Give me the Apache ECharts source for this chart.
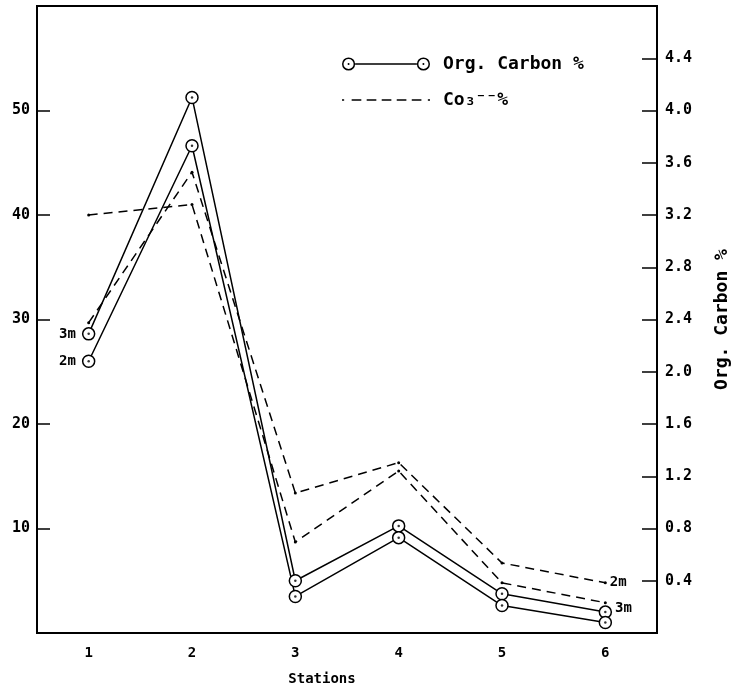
<!DOCTYPE html>
<html>
<head>
<meta charset="utf-8">
<script src="https://cdn.jsdelivr.net/npm/echarts@6/dist/echarts.min.js"></script>
<style>
  html, body { margin: 0; padding: 0; background: #fff; }
  #chart { width: 736px; height: 694px; }
</style>
</head>
<body>
<div id="chart"></div>
<script>
// stations on x axis
var stations = ['1', '2', '3', '4', '5', '6'];
// Org. Carbon % (right axis)
var orgCarbon3m = [2.29, 4.10, 0.40, 0.82, 0.30, 0.16];
var orgCarbon2m = [2.08, 3.73, 0.28, 0.73, 0.21, 0.08];
// CO3 % (left axis)
var co3_2m = [29.7, 44.1, 13.4, 16.3, 6.7, 4.8];
var co3_3m = [40.0, 41.0, 8.7, 15.5, 4.8, 2.9];
// tick labels
var leftTicks = [10, 20, 30, 40, 50];
var rightTicks = [0.4, 0.8, 1.2, 1.6, 2.0, 2.4, 2.8, 3.2, 3.6, 4.0, 4.4];

var FONT = "'DejaVu Sans Mono', monospace";
var ORG_NAME = 'Org. Carbon %';
var CO3_NAME = 'Co\u2083\u207B\u207B%';

// legend icons
var ringIcon = 'path://' +
  'M0.5,7a6.5,6.5 0 1,0 13,0a6.5,6.5 0 1,0 -13,0Z' +
  'M2,7a5,5 0 1,1 10,0a5,5 0 1,1 -10,0Z' +
  'M6,7a1,1 0 1,0 2,0a1,1 0 1,0 -2,0Z' +
  'M13.5,6.3H74.5V7.7H13.5Z' +
  'M74.5,7a6.5,6.5 0 1,0 13,0a6.5,6.5 0 1,0 -13,0Z' +
  'M76,7a5,5 0 1,1 10,0a5,5 0 1,1 -10,0Z' +
  'M80,7a1,1 0 1,0 2,0a1,1 0 1,0 -2,0Z';
var dashIcon = 'path://' +
  'M0,6.2H2V7.8H0Z' +
  'M9,6.3H18V7.7H9Z' +
  'M23,6.3H32V7.7H23Z' +
  'M37,6.3H46V7.7H37Z' +
  'M51,6.3H60V7.7H51Z' +
  'M65,6.3H74V7.7H65Z' +
  'M80,6.2H82V7.8H80Z';

function withEndLabels(values, first, last) {
  return values.map(function (v, i) {
    if (i === 0 && first) return { value: v, label: first };
    if (i === values.length - 1 && last) return { value: v, label: last };
    return v;
  });
}
var tagStyle = { show: true, fontFamily: FONT, fontWeight: 'bold', fontSize: 14, color: '#000' };
function tag(text, pos, dist, offset) {
  return Object.assign({}, tagStyle, { formatter: text, position: pos, distance: dist, offset: offset || [0, 0] });
}

var chart = echarts.init(document.getElementById('chart'));

function orgSeries(values, first, last) {
  return {
    name: ORG_NAME,
    type: 'line',
    yAxisIndex: 1,
    symbol: 'circle',
    symbolSize: 12,
    z: 3,
    lineStyle: { color: '#000', width: 1.5 },
    itemStyle: { color: '#fff', borderColor: '#000', borderWidth: 1.5 },
    label: { show: false },
    data: withEndLabels(values, first, last)
  };
}
function dotSeries(values) {
  return {
    name: 'dot',
    type: 'scatter',
    yAxisIndex: 1,
    symbol: 'circle',
    symbolSize: 2.5,
    z: 4,
    silent: true,
    itemStyle: { color: '#000' },
    data: values
  };
}
function co3Series(values, last) {
  return {
    name: CO3_NAME,
    type: 'line',
    yAxisIndex: 0,
    symbol: 'circle',
    symbolSize: 3,
    z: 2,
    lineStyle: { color: '#000', width: 1.5, type: [9, 6] },
    itemStyle: { color: '#000' },
    data: withEndLabels(values, null, last)
  };
}

var option = {
  animation: false,
  backgroundColor: '#fff',
  textStyle: { fontFamily: FONT },
  grid: {
    left: 37, right: 79, top: 6, bottom: 61,
    show: true, borderColor: '#000', borderWidth: 2,
    outerBoundsMode: 'none'
  },
  legend: {
    orient: 'vertical',
    left: 337,
    top: 50,
    itemWidth: 88,
    itemHeight: 14,
    itemGap: 18,
    symbolKeepAspect: true,
    selectedMode: false,
    itemStyle: { color: '#000', borderWidth: 0 },
    textStyle: { fontFamily: FONT, fontWeight: 'bold', fontSize: 18, color: '#000', padding: [0, 0, 0, 8] },
    data: [
      { name: ORG_NAME, icon: ringIcon },
      { name: CO3_NAME, icon: dashIcon }
    ]
  },
  xAxis: {
    type: 'category',
    data: stations,
    boundaryGap: true,
    name: 'Stations',
    nameLocation: 'middle',
    nameGap: 39,
    nameTextStyle: { fontFamily: FONT, fontWeight: 'bold', fontSize: 14, color: '#000', padding: [0, 50, 0, 0] },
    axisLine: { lineStyle: { color: '#000', width: 2 } },
    axisTick: { inside: true, alignWithLabel: true, length: 11, lineStyle: { color: '#000', width: 1.2 } },
    axisLabel: { margin: 13, fontFamily: FONT, fontWeight: 'bold', fontSize: 14, color: '#000' },
    splitLine: { show: false }
  },
  yAxis: [
    {
      type: 'value',
      position: 'left',
      min: 0, max: 60, interval: 10,
      axisLine: { show: true, lineStyle: { color: '#000', width: 1.5 } },
      axisTick: { show: true, inside: true, length: 13, lineStyle: { color: '#000', width: 1.5 } },
      axisLabel: {
        margin: 7, fontFamily: FONT, fontWeight: 'bold', fontSize: 15, color: '#000',
        formatter: function (v) { return leftTicks.indexOf(v) >= 0 ? String(v) : ''; }
      },
      splitLine: { show: false }
    },
    {
      type: 'value',
      position: 'right',
      min: 0, max: 4.8, interval: 0.4,
      name: 'Org. Carbon %',
      nameLocation: 'middle',
      nameGap: 56,
      nameRotate: 90,
      nameTextStyle: { fontFamily: FONT, fontWeight: 'bold', fontSize: 18, color: '#000' },
      axisLine: { show: true, lineStyle: { color: '#000', width: 2 } },
      axisTick: { show: true, inside: true, length: 15, lineStyle: { color: '#000', width: 1.5 } },
      axisLabel: {
        margin: 8, fontFamily: FONT, fontWeight: 'bold', fontSize: 15, color: '#000',
        formatter: function (v) {
          return rightTicks.some(function (t) { return Math.abs(t - v) < 1e-6; }) ? v.toFixed(1) : '';
        }
      },
      splitLine: { show: false }
    }
  ],
  series: [
    co3Series(co3_2m, tag('2m', 'right', 3, [0, 0])),
    co3Series(co3_3m, null),
    orgSeries(orgCarbon3m, tag('3m', 'left', 6), tag('3m', 'right', 3, [0, -4])),
    orgSeries(orgCarbon2m, tag('2m', 'left', 6), null),
    dotSeries(orgCarbon3m),
    dotSeries(orgCarbon2m)
  ]
};
chart.setOption(option);
</script>
</body>
</html>
